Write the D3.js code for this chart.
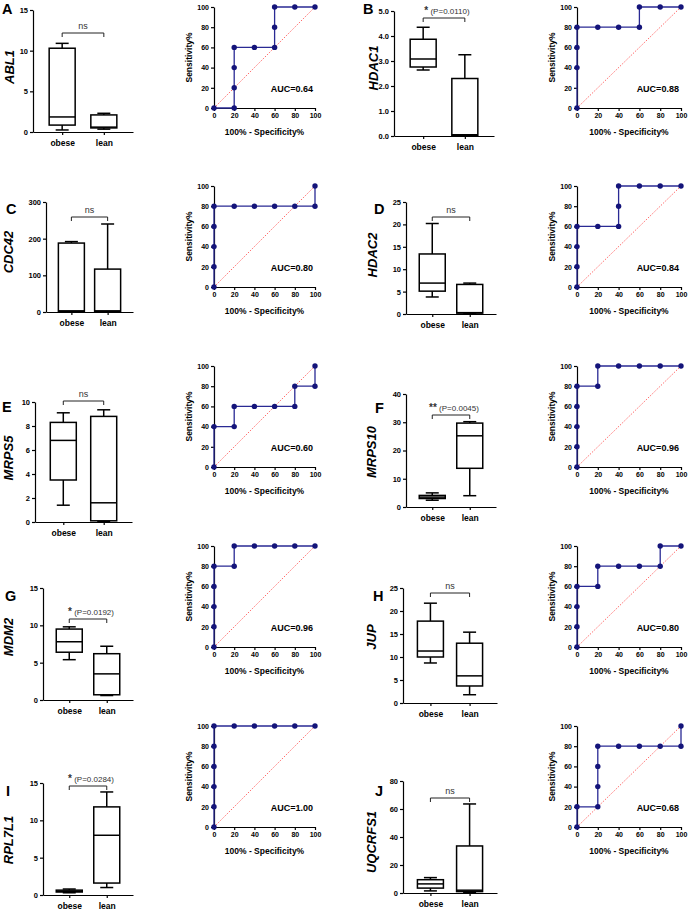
<!DOCTYPE html>
<html>
<head>
<meta charset="utf-8">
<script src="https://cdn.jsdelivr.net/npm/d3@7"></script>
<style>
  body { margin: 0; background: #fff; }
  svg { font-family: "Liberation Sans", Arial, sans-serif; }
  .axis path, .axis line { stroke: #000; stroke-width: 1.2; }
  .axis text { fill: #000; font-weight: bold; }
</style>
</head>
<body>
<div id="chart"></div>
<script>
// ---- data ----
const panelLetters = ['A', 'B', 'C', 'D', 'E', 'F', 'G', 'H', 'I', 'J'];
const genes = ['ABL1', 'HDAC1', 'CDC42', 'HDAC2', 'MRPS5', 'MRPS10', 'MDM2', 'JUP', 'RPL7L1', 'UQCRFS1'];
const groups = ['obese', 'lean'];

// [min, q1, median, q3, max]
const obeseStats = [
    [0.25, 0.85, 1.85, 10.3, 10.9],
    [2.64, 2.76, 3.08, 3.87, 4.35],
    [1, 2, 3, 188, 192],
    [3.8, 5.1, 6.9, 13.4, 20.2],
    [1.4, 3.5, 6.8, 8.3, 9.1],
    [2.4, 3.0, 3.5, 4.1, 5.0],
    [5.4, 6.4, 7.8, 9.5, 9.8],
    [8.7, 10.0, 11.3, 17.8, 21.7],
    [0.3, 0.4, 0.5, 0.65, 0.8],
    [1.5, 3.5, 6.5, 9.5, 11]
];
const leanStats = [
    [0.35, 0.5, 0.6, 2.1, 2.3],
    [0, 0.02, 0.05, 2.3, 3.25],
    [1, 2, 3, 117, 240],
    [0.1, 0.2, 0.3, 6.6, 6.9],
    [0.05, 0.1, 1.6, 8.8, 9.35],
    [4.0, 13.7, 25.2, 29.7, 30.2],
    [0.6, 0.7, 3.5, 6.2, 7.2],
    [1.8, 3.7, 5.9, 13.0, 15.4],
    [1.0, 1.6, 8.0, 11.8, 13.8],
    [0.5, 1, 2, 33.6, 63.6]
];
const yMax = [15, 5, 300, 25, 10, 40, 15, 25, 15, 80];
const yStep = [5, 1, 100, 5, 2, 10, 5, 5, 5, 20];
const sigStars = ['', '*', '', '', '', '**', '*', '', '*', ''];
const sigTexts = ['ns', '(P=0.0110)', 'ns', 'ns', 'ns', '(P=0.0045)', '(P=0.0192)', 'ns', '(P=0.0284)', 'ns'];

// ROC curves: 100% - specificity (x) and sensitivity (y)
const rocFpr = [
    [0, 20, 20, 20, 20, 40, 60, 60, 60, 80, 100],
    [0, 0, 0, 0, 20, 40, 60, 60, 80, 100],
    [0, 0, 0, 0, 0, 20, 40, 60, 80, 100, 100],
    [0, 0, 0, 0, 20, 40, 40, 40, 60, 80, 100],
    [0, 0, 20, 20, 40, 60, 80, 80, 100, 100],
    [0, 0, 0, 0, 0, 20, 20, 40, 60, 80, 100],
    [0, 0, 0, 0, 0, 20, 20, 40, 60, 80, 100],
    [0, 0, 0, 0, 20, 20, 40, 60, 80, 80, 100],
    [0, 0, 0, 0, 0, 0, 20, 40, 60, 80, 100],
    [0, 0, 20, 20, 20, 20, 40, 60, 80, 100, 100]
];
const rocTpr = [
    [0, 0, 20, 40, 60, 60, 60, 80, 100, 100, 100],
    [0, 40, 60, 80, 80, 80, 80, 100, 100, 100],
    [0, 20, 40, 60, 80, 80, 80, 80, 80, 80, 100],
    [0, 20, 40, 60, 60, 60, 80, 100, 100, 100, 100],
    [0, 40, 40, 60, 60, 60, 60, 80, 80, 100],
    [0, 20, 40, 60, 80, 80, 100, 100, 100, 100, 100],
    [0, 20, 40, 60, 80, 80, 100, 100, 100, 100, 100],
    [0, 20, 40, 60, 60, 80, 80, 80, 80, 100, 100],
    [0, 20, 40, 60, 80, 100, 100, 100, 100, 100, 100],
    [0, 20, 20, 40, 60, 80, 80, 80, 80, 80, 100]
];
const aucLabels = ['AUC=0.64', 'AUC=0.88', 'AUC=0.80', 'AUC=0.84', 'AUC=0.60',
                   'AUC=0.96', 'AUC=0.96', 'AUC=0.80', 'AUC=1.00', 'AUC=0.68'];
const rocTicks = [0, 20, 40, 60, 80, 100];

// ---- layout (pixel positions per panel) ----
const boxLayout = [
    { x0: 33,  x1: 133, top: 10,  bottom: 132, bracket: 33,  letter: [2, 14],    gene: [9, 67] },
    { x0: 394, x1: 494, top: 11,  bottom: 136, bracket: 18,  letter: [363, 14],  gene: [373, 68] },
    { x0: 46,  x1: 133, top: 202, bottom: 312, bracket: 217, letter: [6, 214],   gene: [8, 252] },
    { x0: 406, x1: 496, top: 202, bottom: 314, bracket: 217, letter: [374, 214], gene: [372, 255] },
    { x0: 35,  x1: 132, top: 402, bottom: 522, bracket: 401, letter: [2, 412],   gene: [8, 458] },
    { x0: 406, x1: 496, top: 394, bottom: 507, bracket: 415, letter: [375, 413], gene: [371, 452] },
    { x0: 43,  x1: 133, top: 588, bottom: 700, bracket: 619, letter: [5, 601],   gene: [8, 637] },
    { x0: 403, x1: 497, top: 588, bottom: 703, bracket: 593, letter: [373, 601], gene: [371, 637] },
    { x0: 43,  x1: 133, top: 783, bottom: 895, bracket: 786, letter: [6, 796],   gene: [8, 840] },
    { x0: 403, x1: 497, top: 781, bottom: 893, bracket: 798, letter: [375, 796], gene: [371, 842] }
];
const rocLeft = [214, 577];
const rocWidth = [101, 104];
const rocTops = [7, 186, 366, 546, 726];
const rocHeight = 101;

const svg = d3.select('#chart').append('svg')
    .attr('width', 689)
    .attr('height', 912);

function drawBox(i) {
    const L = boxLayout[i];
    const g = svg.append('g');

    const x = d3.scalePoint().domain(groups).range([L.x0, L.x1]).padding(0.7);
    const y = d3.scaleLinear().domain([0, yMax[i]]).range([L.bottom, L.top]);
    const boxW = 26;

    // axes
    g.append('g').attr('class', 'axis')
        .attr('transform', `translate(${L.x0},0)`)
        .call(d3.axisLeft(y).tickValues(d3.range(0, yMax[i] + yStep[i] / 2, yStep[i]))
            .tickSize(3).tickSizeOuter(0).tickPadding(2))
        .selectAll('text').style('font-size', '7.5px');
    g.append('g').attr('class', 'axis')
        .attr('transform', `translate(0,${L.bottom})`)
        .call(d3.axisBottom(x).tickSize(3).tickSizeOuter(0).tickPadding(5))
        .selectAll('text').style('font-size', '8.5px');

    // boxes
    const stats = [obeseStats[i], leanStats[i]];
    stats.forEach((s, k) => {
        const cx = x(groups[k]);
        const bg = g.append('g').attr('stroke', '#000').attr('stroke-width', 1.5).attr('fill', 'none');
        // whiskers
        bg.append('line').attr('x1', cx).attr('x2', cx).attr('y1', y(s[3])).attr('y2', y(s[4]));
        bg.append('line').attr('x1', cx).attr('x2', cx).attr('y1', y(s[1])).attr('y2', y(s[0]));
        bg.append('line').attr('x1', cx - boxW / 4).attr('x2', cx + boxW / 4).attr('y1', y(s[4])).attr('y2', y(s[4]));
        bg.append('line').attr('x1', cx - boxW / 4).attr('x2', cx + boxW / 4).attr('y1', y(s[0])).attr('y2', y(s[0]));
        // box
        bg.append('rect').attr('x', cx - boxW / 2).attr('width', boxW)
            .attr('y', y(s[3])).attr('height', Math.max(0.5, y(s[1]) - y(s[3])))
            .attr('fill', '#fff');
        // median
        bg.append('line').attr('x1', cx - boxW / 2).attr('x2', cx + boxW / 2)
            .attr('y1', y(s[2])).attr('y2', y(s[2]));
    });

    // significance bracket
    const bx1 = x(groups[0]), bx2 = x(groups[1]);
    g.append('path')
        .attr('d', `M${bx1},${L.bracket + 4}V${L.bracket}H${bx2}V${L.bracket + 4}`)
        .attr('fill', 'none').attr('stroke', '#222').attr('stroke-width', 1);
    const t = g.append('text')
        .attr('x', (bx1 + bx2) / 2 + (sigStars[i] ? 3 : 0))
        .attr('y', L.bracket - 4)
        .attr('text-anchor', 'middle')
        .attr('fill', '#333');
    if (sigStars[i]) {
        t.append('tspan').text(sigStars[i]).style('font-size', '10px').style('font-weight', 'bold');
        t.append('tspan').text(' ' + sigTexts[i]).style('font-size', '8px');
    } else {
        t.text(sigTexts[i]).style('font-size', '9px');
    }

    // panel letter
    svg.append('text')
        .attr('x', L.letter[0]).attr('y', L.letter[1])
        .style('font-size', '14.5px').style('font-weight', 'bold')
        .text(panelLetters[i]);

    // gene label
    svg.append('text')
        .attr('transform', `translate(${L.gene[0]},${L.gene[1]})rotate(-90)`)
        .attr('text-anchor', 'middle').attr('dy', '0.35em')
        .style('font-size', '13px').style('font-weight', 'bold').style('font-style', 'italic')
        .text(genes[i]);
}

function drawRoc(i) {
    const col = i % 2, row = Math.floor(i / 2);
    const left = rocLeft[col], top = rocTops[row], w = rocWidth[col];
    const g = svg.append('g');

    const x = d3.scaleLinear().domain([0, 100]).range([left, left + w]);
    const y = d3.scaleLinear().domain([0, 100]).range([top + rocHeight, top]);

    g.append('g').attr('class', 'axis')
        .attr('transform', `translate(${left},0)`)
        .call(d3.axisLeft(y).tickValues(rocTicks).tickSize(3).tickSizeOuter(0).tickPadding(2))
        .selectAll('text').style('font-size', '7px');
    g.append('g').attr('class', 'axis')
        .attr('transform', `translate(0,${top + rocHeight})`)
        .call(d3.axisBottom(x).tickValues(rocTicks).tickSize(3).tickSizeOuter(0).tickPadding(2))
        .selectAll('text').style('font-size', '7px');

    // reference diagonal
    g.append('line')
        .attr('x1', x(0)).attr('y1', y(0)).attr('x2', x(100)).attr('y2', y(100))
        .attr('stroke', '#ff5a5a').attr('stroke-width', 0.9).attr('stroke-dasharray', '1.5,1.5');

    const pts = rocFpr[i].map((f, k) => [f, rocTpr[i][k]]);
    g.append('path')
        .datum(pts)
        .attr('d', d3.line().x(d => x(d[0])).y(d => y(d[1])))
        .attr('fill', 'none').attr('stroke', '#2a2a94').attr('stroke-width', 1.3);
    g.selectAll('circle.pt')
        .data(pts)
        .join('circle')
        .attr('cx', d => x(d[0])).attr('cy', d => y(d[1]))
        .attr('r', 2.7).attr('fill', '#14147a');

    g.append('text')
        .attr('x', x(98)).attr('y', y(19)).attr('dy', '0.35em')
        .attr('text-anchor', 'end')
        .style('font-size', '9px').style('font-weight', 'bold')
        .text(aucLabels[i]);

    g.append('text')
        .attr('transform', `translate(${left - 25},${top + rocHeight / 2})rotate(-90)`)
        .attr('text-anchor', 'middle').attr('dy', '0.35em')
        .style('font-size', '8.5px').style('font-weight', 'bold')
        .text('Sensitivity%');
    g.append('text')
        .attr('x', left + w / 2).attr('y', top + rocHeight + 27)
        .attr('text-anchor', 'middle')
        .style('font-size', '8.5px').style('font-weight', 'bold')
        .text('100% - Specificity%');
}

genes.forEach((gname, i) => {
    drawBox(i);
    drawRoc(i);
});
</script>
</body>
</html>
